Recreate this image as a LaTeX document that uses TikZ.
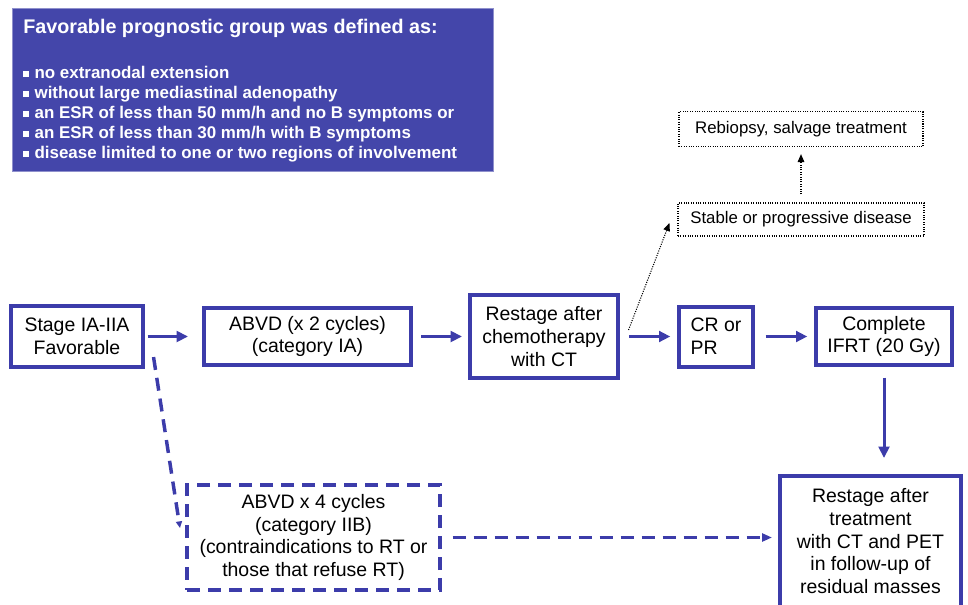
\documentclass[tikz,border=0pt]{standalone}
\usepackage{fontspec}
\setmainfont{Liberation Sans}
\usetikzlibrary{positioning, arrows.meta, calc}
\definecolor{flowblue}{HTML}{3C3CAA}
\definecolor{bannerblue}{HTML}{4446AA}
\newcommand{\sqbullet}{\rule[1pt]{4pt}{4pt}\hspace{4.5pt}}

\begin{document}
\begin{tikzpicture}[
  x=0.75pt, y=-0.75pt,
  node distance=42.75pt,
  box/.style={draw=flowblue, line width=3pt, align=center, inner sep=0pt,
              font=\fontsize{14.6}{17}\selectfont},
  dbox/.style={box, dash pattern=on 9.75pt off 6pt},
  note/.style={draw, densely dotted, line width=0.8pt, inner sep=0pt,
               font=\fontsize{12.6}{15}\selectfont},
  crit/.style={inner sep=0pt, text=white,
               font=\bfseries\fontsize{12.7}{15}\selectfont},
  arrow/.style={-{Triangle[length=8.5pt,width=8pt]}, draw=flowblue,
                line width=2.25pt, shorten <=7pt, shorten >=5pt},
  darrow/.style={arrow, line width=2.6pt, dash pattern=on 9.75pt off 6pt},
  narrow/.style={-{Triangle[length=6pt,width=5pt]}, densely dotted,
                 line width=0.8pt},
]
  \useasboundingbox (0,0) rectangle (968,604);
  % Banner with the criteria
  \node[draw=bannerblue!60!white, fill=bannerblue, line width=0.75pt,
        minimum width=360.75pt, minimum height=122.25pt, inner sep=0pt,
        anchor=north west] (banner) at (12,8) {};
  \node[anchor=base west, inner sep=0pt, text=white,
        font=\bfseries\fontsize{14.8}{17}\selectfont] (title) at (23,33)
    {Favorable prognostic group was defined as:};
  \foreach \crittext [count=\i from 0] in {no extranodal extension,
      without large mediastinal adenopathy,
      an ESR of less than 50 mm/h and no B symptoms or,
      an ESR of less than 30 mm/h with B symptoms,
      disease limited to one or two regions of involvement}
    \node[crit, anchor=base west] (crit\i) at (23, 78+20*\i)
      {\sqbullet\crittext};
  % Main row
  \node[box, minimum width=99pt, minimum height=45.75pt] (stage)
    at (77,336.5) {Stage IA-IIA\\Favorable};
  \node[box, minimum width=155.25pt, minimum height=42.75pt,
        right=of stage] (abvd) {ABVD (x 2 cycles)\\(category IA)};
  \node[box, minimum width=111pt, minimum height=62.25pt,
        right=41.25pt of abvd] (restage) {Restage after\\chemotherapy\\with CT};
  \node[box, align=left, minimum width=55.5pt, minimum height=45pt,
        right=of restage] (cr) {CR or\\PR};
  \node[box, minimum width=102pt, minimum height=42.75pt,
        right=44.25pt of cr] (ifrt) {Complete\\IFRT (20 Gy)};
  % Lower row (last box runs off the page)
  \node[box, minimum width=135.75pt, minimum height=117pt, anchor=north]
    (final) at (870.5,474)
    {Restage after\\treatment\\with CT and PET\\in follow-up of\\residual masses\\[2.5pt]\mbox{}};
  \node[dbox, minimum width=189.75pt, minimum height=78.75pt] (abvdfour)
    at (313.5,537.5)
    {ABVD x 4 cycles\\(category IIB)\\(contraindications to RT or\\those that refuse RT)};
  % Progression branch
  \node[note, minimum width=184.5pt, minimum height=24.75pt] (stable)
    at (801,219.5) {Stable or progressive disease};
  \node[note, minimum width=183pt, minimum height=26.25pt,
        above=41.25pt of stable] (rebiopsy) {Rebiopsy, salvage treatment};
  % Arrows
  \draw[arrow, shorten <=2pt, shorten >=10.5pt] (stage) -- (abvd);
  \draw[arrow, shorten <=6pt, shorten >=4.5pt] (abvd) -- (restage);
  \draw[arrow] (restage) -- (cr);
  \draw[arrow, shorten <=8pt] (cr) -- (ifrt);
  \draw[arrow, shorten <=8pt, shorten >=12pt]
    (ifrt.south) -- (ifrt.south |- final.north);
  \draw[darrow, shorten <=8pt, shorten >=4.5pt,
        -{Triangle[length=7.5pt,width=6pt]}]
    (abvdfour.east) -- (abvdfour.east -| final.west);
  \draw[darrow, shorten <=0pt, shorten >=0pt,
        -{Triangle[length=5pt,width=4.5pt]}]
    ([xshift=6.4pt,yshift=-15.4pt]stage.east)
    -- ([xshift=-3.75pt,yshift=7.1pt]abvdfour.west);
  \draw[narrow] ([xshift=6.4pt,yshift=4.9pt]restage.east)
    -- ([xshift=-6pt,yshift=-2.6pt]stable.west);
  \draw[narrow, shorten <=6pt, shorten >=5pt] (stable) -- (rebiopsy);
\end{tikzpicture}
\end{document}
